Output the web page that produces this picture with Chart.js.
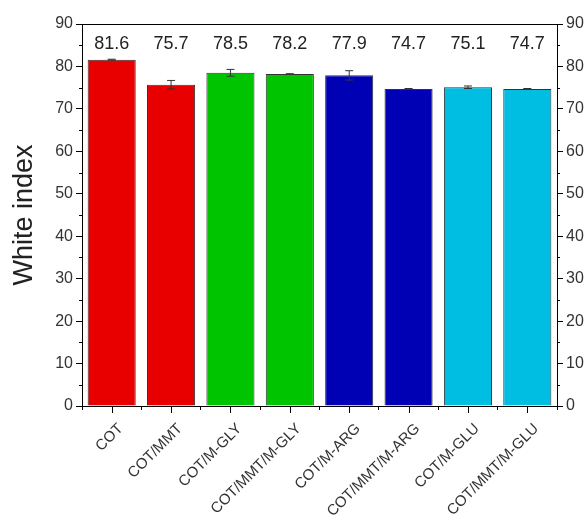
<!DOCTYPE html>
<html>
<head>
<meta charset="utf-8">
<script src="https://cdn.jsdelivr.net/npm/chart.js@4/dist/chart.umd.min.js"></script>
<style>
  html, body { margin: 0; padding: 0; background: #fff; }
  canvas { display: block; }
</style>
</head>
<body>
<canvas id="chart" width="588" height="518"></canvas>
<script>
var samples = ['COT', 'COT/MMT', 'COT/M-GLY', 'COT/MMT/M-GLY', 'COT/M-ARG', 'COT/MMT/M-ARG', 'COT/M-GLU', 'COT/MMT/M-GLU'];
var whiteIndex = [81.6, 75.7, 78.5, 78.2, 77.9, 74.7, 75.1, 74.7];
var stdDev = [0.1, 1.0, 0.8, 0.1, 1.1, 0.1, 0.3, 0.1];
var barColors = ['#e80000', '#e80000', '#00c400', '#00c400', '#0000b4', '#0000b4', '#00bde2', '#00bde2'];
var yTicks = [0, 10, 20, 30, 40, 50, 60, 70, 80, 90];

var FONT = '"Liberation Sans", Arial, sans-serif';

// minor ticks, error bars, value labels and the top frame line
var extras = {
  id: 'extras',
  afterDatasetsDraw: function(chart) {
    var ctx = chart.ctx, area = chart.chartArea;
    var x = chart.scales.x, y = chart.scales.y;
    var meta = chart.getDatasetMeta(0);
    ctx.save();

    // error bars
    ctx.strokeStyle = '#333';
    ctx.lineWidth = 1;
    meta.data.forEach(function(bar, i) {
      var top = y.getPixelForValue(whiteIndex[i] + stdDev[i]);
      var bot = y.getPixelForValue(whiteIndex[i] - stdDev[i]);
      ctx.beginPath();
      ctx.moveTo(bar.x, top); ctx.lineTo(bar.x, bot);
      ctx.moveTo(bar.x - 4, top); ctx.lineTo(bar.x + 4, top);
      ctx.moveTo(bar.x - 4, bot); ctx.lineTo(bar.x + 4, bot);
      ctx.stroke();
    });

    // value labels in a row near the top
    ctx.fillStyle = '#222';
    ctx.font = '18px ' + FONT;
    ctx.textAlign = 'center';
    ctx.textBaseline = 'middle';
    meta.data.forEach(function(bar, i) {
      ctx.fillText(whiteIndex[i].toFixed(1), bar.x, area.top + 20);
    });

    // frame top
    ctx.strokeStyle = '#000';
    ctx.beginPath();
    ctx.moveTo(area.left, area.top + 0.5);
    ctx.lineTo(area.right, area.top + 0.5);
    ctx.stroke();

    // minor y ticks on both sides
    for (var v = 5; v < 90; v += 10) {
      var py = Math.round(y.getPixelForValue(v)) + 0.5;
      ctx.beginPath();
      ctx.moveTo(area.left - 3, py); ctx.lineTo(area.left, py);
      ctx.moveTo(area.right, py); ctx.lineTo(area.right + 3, py);
      ctx.stroke();
    }

    // x ticks at category centres
    for (var i = 0; i < samples.length; i++) {
      var px = Math.round(x.getPixelForValue(i)) + 0.5;
      ctx.beginPath();
      ctx.moveTo(px, area.bottom); ctx.lineTo(px, area.bottom + 7);
      ctx.stroke();
    }
    ctx.restore();
  }
};

var yCommon = {
  min: 0,
  max: 90,
  afterBuildTicks: function(scale) {
    scale.ticks = yTicks.map(function(v) { return { value: v }; });
  },
  grid: { drawOnChartArea: false, color: '#000', tickLength: 6 },
  border: { color: '#000', width: 1 },
  ticks: { color: '#333', padding: 3, font: { family: FONT, size: 16 } }
};

new Chart(document.getElementById('chart'), {
  type: 'bar',
  data: {
    labels: samples,
    datasets: [{
      data: whiteIndex,
      backgroundColor: barColors,
      borderColor: '#333',
      borderWidth: 1,
      categoryPercentage: 1,
      barPercentage: 0.81
    }]
  },
  options: {
    responsive: false,
    animation: false,
    events: [],
    layout: { padding: { left: 8, top: 24, right: 0, bottom: 0 } },
    plugins: { legend: { display: false }, tooltip: { enabled: false } },
    scales: {
      x: {
        grid: { drawOnChartArea: false, color: '#000', tickLength: 4, offset: true },
        border: { color: '#000', width: 1 },
        ticks: {
          color: '#333',
          minRotation: 45,
          maxRotation: 45,
          padding: 10,
          labelOffset: 9,
          font: { family: FONT, size: 15 }
        },
        afterFit: function(scale) { scale.height = 112; }
      },
      y: Object.assign({}, yCommon, {
        position: 'left',
        title: {
          display: true,
          text: 'White index',
          color: '#222',
          padding: { top: 0, bottom: 0 },
          font: { family: FONT, size: 27 }
        },
        afterFit: function(scale) { scale.width = 74; }
      }),
      y2: Object.assign({}, yCommon, {
        position: 'right',
        afterFit: function(scale) { scale.width = 31; }
      })
    }
  },
  plugins: [extras]
});
</script>
</body>
</html>
